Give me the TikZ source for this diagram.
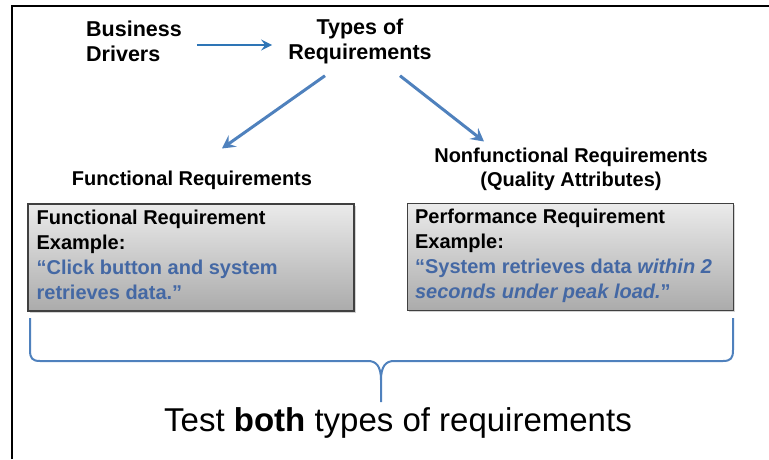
\documentclass[tikz,border=0pt]{standalone}
\usepackage{fontspec}
\setmainfont{Liberation Sans}
\usetikzlibrary{arrows.meta,calc,shadows}
\definecolor{arrblue}{RGB}{46,117,182}
\definecolor{diagblue}{RGB}{79,129,189}
\definecolor{txtblue}{RGB}{68,104,164}
\definecolor{bracecol}{RGB}{79,129,189}
\tikzset{
  lbl/.style={font=\fontsize{20}{24}\selectfont\bfseries, align=center, inner sep=0pt},
  toplbl/.style={font=\fontsize{21.5}{25}\selectfont\bfseries, align=center, inner sep=0pt},
  boxtxt/.style={font=\fontsize{20}{25}\selectfont\bfseries, align=left, inner sep=0pt, anchor=north west},
  reqbox/.style={draw=black!75, line width=1.2pt, minimum width=326pt, minimum height=107pt,
    top color=black!8, bottom color=black!33, inner sep=0pt,
    drop shadow={shadow xshift=1.5pt, shadow yshift=-1.5pt, opacity=0.35}},
  harr/.style={draw=arrblue, line width=2.2pt, -{Stealth[length=11pt,width=11pt,inset=4pt]}},
  darr/.style={draw=diagblue, line width=3pt, -{Stealth[length=13pt,width=14pt,inset=5pt]}},
}
\begin{document}
\begin{tikzpicture}[x=1pt,y=-1pt]
\useasboundingbox (0,0) rectangle (769,459);
% frame
\draw[line width=2pt] (12,459) -- (12,6) -- (769,6);
% top labels
\node[toplbl, align=left] (bd) at (134,41) {Business\\Drivers};
\node[toplbl] (tr) at (360,41) {Types of\\Requirements};
\node[lbl] (fr) at (192,180) {Functional Requirements};
\node[lbl] (nfr) at (571,169) {Nonfunctional Requirements\\(Quality Attributes)};
% arrows
\draw[harr] ([yshift=-4pt]bd.east) ++(15,0) coordinate (h1) -- ($([yshift=-4pt]tr.west)+(-16,0)$) coordinate (h2);
\draw[darr] ($(tr.south)+(-35,12)$) -- ($(fr.north)+(30,-22)$);
\draw[darr] ($(tr.south)+(40,12)$) -- ($(nfr.north)+(-87,-6)$);
% boxes
\node[reqbox] (b1) at (191,257.5) {};
\node[reqbox] (b2) at (570.5,257) {};
\node[boxtxt] (t1) at ($(b1.north west)+(9,6)$) {Functional Requirement\\Example:\\\textcolor{txtblue}{“Click button and system}\\\textcolor{txtblue}{retrieves data.”}};
\node[boxtxt] (t2) at ($(b2.north west)+(8,6)$) {Performance Requirement\\Example:\\\textcolor{txtblue}{“System retrieves data \textit{within 2}}\\\textcolor{txtblue}{\textit{seconds under peak load.}”}};
% brace
\coordinate (tip) at (381,402);
\draw[bracecol, line width=2pt, line join=round]
  (30,318) -- (30,350) .. controls (30,358) and (32,361) .. (40,361) -- (368,361)
  .. controls (376,361) and (381,366) .. (381,380) -- (tip);
\draw[bracecol, line width=2pt, line join=round]
  (733,318) -- (733,350) .. controls (733,358) and (731,361) .. (723,361) -- (394,361)
  .. controls (386,361) and (381,366) .. (381,380);
% bottom text
\node[inner sep=0pt, font=\fontsize{33}{36}\selectfont] (tb) at (398,423) {Test \textbf{both} types of requirements};
\end{tikzpicture}
\end{document}
